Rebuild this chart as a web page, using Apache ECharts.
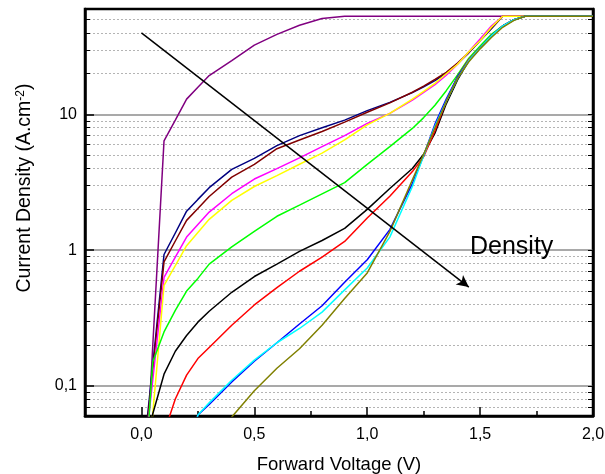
<!DOCTYPE html>
<html><head><meta charset="utf-8">
<script src="https://cdn.jsdelivr.net/npm/echarts@6/dist/echarts.min.js"></script>
<style>html,body{margin:0;padding:0;background:#fff}#c{width:605px;height:474px}</style>
</head><body><div id="c"></div>
<script>
// Forward voltage (V) sample points shared by all curves
const voltage = [0, 0.05, 0.1, 0.15, 0.2, 0.25, 0.3, 0.4, 0.5, 0.6, 0.7, 0.8, 0.9, 1.0, 1.1, 1.2, 1.25, 1.3, 1.35, 1.4, 1.45, 1.5, 1.55, 1.6, 1.65, 1.7, 1.8, 1.9, 2.0];
// Current density (A.cm-2), one array per curve (null = not plotted)
const cPurple  = [0.006, 0.196, 6.4, 9.1, 13.0, 15.9, 19.4, 25.0, 32.5, 39.0, 45.5, 51, 53, 53, 53, 53, 53, 53, 53, 53, 53, 53, 53, 53, 53, 53, 53, 53, 53];
const cNavy    = [0.022, 0.142, 0.93, 1.34, 1.94, 2.37, 2.89, 3.94, 4.75, 5.9, 7.0, 8.0, 9.1, 10.7, 12.3, 14.5, 16.0, 17.8, 20.2, 23.7, 28.5, 35, 43, 53, 53, 53, 53, 53, 53];
const cMaroon  = [0.02, 0.13, 0.82, 1.17, 1.66, 2.03, 2.49, 3.46, 4.3, 5.6, 6.5, 7.5, 8.8, 10.4, 12.2, 14.6, 16.2, 18.2, 20.5, 24, 28.8, 35.5, 43.5, 53, 53, 53, 53, 53, 53];
const cMagenta = [0.019, 0.11, 0.63, 0.89, 1.25, 1.55, 1.91, 2.61, 3.35, 4.0, 4.8, 5.8, 7.0, 8.6, 10.2, 12.8, 14.6, 16.6, 19.5, 23.5, 29, 36, 45, 53, 53, 53, 53, 53, 53];
const cYellow  = [0.009, 0.062, 0.55, 0.77, 1.08, 1.35, 1.69, 2.33, 2.95, 3.55, 4.3, 5.2, 6.5, 8.4, 10.2, 13.0, 14.8, 17.0, 20.0, 23.5, 29, 35, 44, 53, 53, 53, 53, 53, 53];
const cGreen   = [0.0087, 0.15, 0.25, 0.36, 0.5, 0.62, 0.79, 1.06, 1.38, 1.78, 2.15, 2.6, 3.15, 4.3, 5.8, 7.9, 9.5, 11.7, 15.0, 19.6, 26, 32, 39, 45, 50, 53, 53, 53, 53];
const cBlack   = [0.004, 0.062, 0.122, 0.18, 0.235, 0.295, 0.355, 0.49, 0.64, 0.79, 0.98, 1.18, 1.45, 2.0, 2.85, 4.0, 5.1, 7.3, 12, 18, 25, 31, 38, 45, 50, 53, 53, 53, 53];
const cRed     = [null, 0.005, 0.045, 0.08, 0.12, 0.159, 0.192, 0.28, 0.395, 0.53, 0.70, 0.89, 1.16, 1.73, 2.5, 3.8, 4.9, 7.6, 12.5, 19, 25.5, 31, 38, 45, 50, 53, 53, 53, 53];
const cBlue    = [null, null, null, null, 0.03, 0.061, 0.073, 0.107, 0.152, 0.208, 0.286, 0.39, 0.58, 0.85, 1.42, 3.1, 5.0, 8.5, 13, 19, 25, 31, 38, 45, 50, 53, 53, 53, 53];
const cCyan    = [null, null, null, null, 0.03, 0.061, 0.075, 0.11, 0.155, 0.208, 0.265, 0.35, 0.51, 0.74, 1.25, 2.95, 5.0, 8.2, 12.5, 18.5, 25, 31, 38, 45, 50, 53, 53, 53, 53];
const cOlive   = [null, null, null, null, null, null, 0.025, 0.059, 0.092, 0.135, 0.188, 0.28, 0.44, 0.68, 1.37, 3.3, 5.1, 8.0, 12.5, 18.5, 24.5, 30.5, 37, 44, 49.5, 53, 53, 53, 53];

const curves = [
  {name: 'c1',  values: cPurple,  color: '#800080'},
  {name: 'c2',  values: cNavy,    color: '#000080'},
  {name: 'c3',  values: cMaroon,  color: '#800000'},
  {name: 'c4',  values: cMagenta, color: '#ff00ff'},
  {name: 'c5',  values: cYellow,  color: '#ffff00'},
  {name: 'c6',  values: cGreen,   color: '#00ff00'},
  {name: 'c7',  values: cBlack,   color: '#000000'},
  {name: 'c8',  values: cRed,     color: '#ff0000'},
  {name: 'c9',  values: cBlue,    color: '#0000ff'},
  {name: 'c10', values: cCyan,    color: '#00ffff'},
  {name: 'c11', values: cOlive,   color: '#808000'}
];

// Axis ticks
const xMajorTicks = [0, 0.5, 1, 1.5, 2];
const xMinorTicks = [0.25, 0.75, 1.25, 1.75];
const yMajorTicks = [0.1, 1, 10];
const yMinorTicks = [0.07, 0.08, 0.09, 0.2, 0.3, 0.4, 0.5, 0.6, 0.7, 0.8, 0.9, 2, 3, 4, 5, 6, 7, 8, 9, 20, 30, 40, 50];
const xRange = [-0.25, 2.0];
const yRange = [0.06, 60];
// Arrow annotation (data coords)
const arrowFrom = [0, 40];
const arrowTo = [1.45, 0.535];
const arrowText = 'Density';
const xTitle = 'Forward Voltage (V)';
const yTitle = 'Current Density (A.cm{sup|-2})';

const FONT = 'Liberation Sans, Arial, sans-serif';
const fmtComma = v => {
  const s = (Math.abs(v) < 1e-9 ? 0 : v);
  return s.toFixed(1).replace('.', ',');
};

const series = curves.map((c, idx) => {
  const s = {
    name: c.name,
    type: 'line',
    xAxisIndex: 0,
    yAxisIndex: 0,
    showSymbol: false,
    symbol: 'none',
    clip: true,
    silent: true,
    lineStyle: {color: c.color, width: 1.5},
    itemStyle: {color: c.color},
    data: voltage.map((v, i) => [v, c.values[i]]).filter(p => p[1] != null),
    z: 3
  };
  if (idx === 0) {
    s.markLine = {
      silent: true,
      symbol: ['none', 'arrow'],
      symbolSize: [9, 12],
      label: {show: false},
      lineStyle: {color: '#000', width: 1.5, type: 'solid'},
      data: [[{coord: arrowFrom}, {coord: arrowTo}]],
      animation: false
    };
  }
  return s;
});

const chart = echarts.init(document.getElementById('c'), null, {renderer: 'canvas'});
chart.setOption({
  animation: false,
  backgroundColor: '#fff',
  grid: {left: 85, right: 12, top: 9, bottom: 58, containLabel: false, outerBoundsMode: 'none',
         show: true, borderColor: '#000', borderWidth: 2.5, backgroundColor: 'transparent'},
  xAxis: [
    {
      type: 'value', position: 'bottom', min: xRange[0], max: xRange[1],
      axisLine: {show: true, onZero: false, lineStyle: {color: '#000', width: 2.5}},
      axisTick: {show: true, inside: true, length: 9, customValues: xMajorTicks.slice(0, 4), lineStyle: {color: '#000', width: 1.5}},
      axisLabel: {customValues: xMajorTicks, formatter: fmtComma, color: '#000', fontSize: 16, fontFamily: FONT, margin: 11, showMaxLabel: true},
      splitLine: {show: false},
      name: xTitle, nameLocation: 'middle', nameGap: 39,
      nameTextStyle: {color: '#000', fontSize: 18.5, fontFamily: FONT}
    },
    {
      type: 'value', position: 'bottom', min: xRange[0], max: xRange[1],
      axisLine: {show: false, onZero: false},
      axisTick: {show: true, inside: true, length: 5, customValues: xMinorTicks, lineStyle: {color: '#000', width: 1.5}},
      axisLabel: {show: false},
      splitLine: {show: false}
    }
  ],
  yAxis: [
    {
      type: 'log', logBase: 10, position: 'left', min: yRange[0], max: yRange[1],
      axisLine: {show: true, onZero: false, lineStyle: {color: '#000', width: 2.5}},
      axisTick: {show: true, inside: true, length: 5, customValues: yMinorTicks, lineStyle: {color: '#000', width: 1}},
      axisLabel: {customValues: yMajorTicks, formatter: v => String(v).replace('.', ','), color: '#000', fontSize: 16, fontFamily: FONT, margin: 8},
      splitLine: {show: true, lineStyle: {color: '#b4b4b4', width: 1, type: [2, 2]}}
    },
    {
      type: 'log', logBase: 10, position: 'left', min: yRange[0], max: yRange[1],
      axisLine: {show: false, onZero: false},
      axisTick: {show: true, inside: true, length: 9, customValues: yMajorTicks, lineStyle: {color: '#000', width: 1.5}},
      axisLabel: {show: false},
      splitLine: {show: true, lineStyle: {color: '#8c8c8c', width: 1.5, type: 'solid'}}
    },
    {
      type: 'log', logBase: 10, position: 'right', min: yRange[0], max: yRange[1],
      axisLine: {show: true, onZero: false, lineStyle: {color: '#000', width: 2.5}},
      axisTick: {show: true, inside: true, length: 5, customValues: yMinorTicks.concat(yMajorTicks), lineStyle: {color: '#000', width: 1}},
      axisLabel: {show: false},
      splitLine: {show: false}
    }
  ],
  graphic: [
    {
      type: 'text', left: 470, top: 235, z: 10,
      style: {text: arrowText, fill: '#000', font: '25px ' + FONT}
    },
    {
      type: 'text', x: 25, y: 188, rotation: Math.PI / 2, z: 10,
      style: {
        text: yTitle, fill: '#000', fontSize: 19.5, fontFamily: FONT,
        align: 'center', verticalAlign: 'middle',
        rich: {sup: {fontSize: 12, fontFamily: FONT, fill: '#000', verticalAlign: 'top', padding: [0, 0, 9, 0]}}
      }
    }
  ],
  series: series
});
</script>
</body></html>
